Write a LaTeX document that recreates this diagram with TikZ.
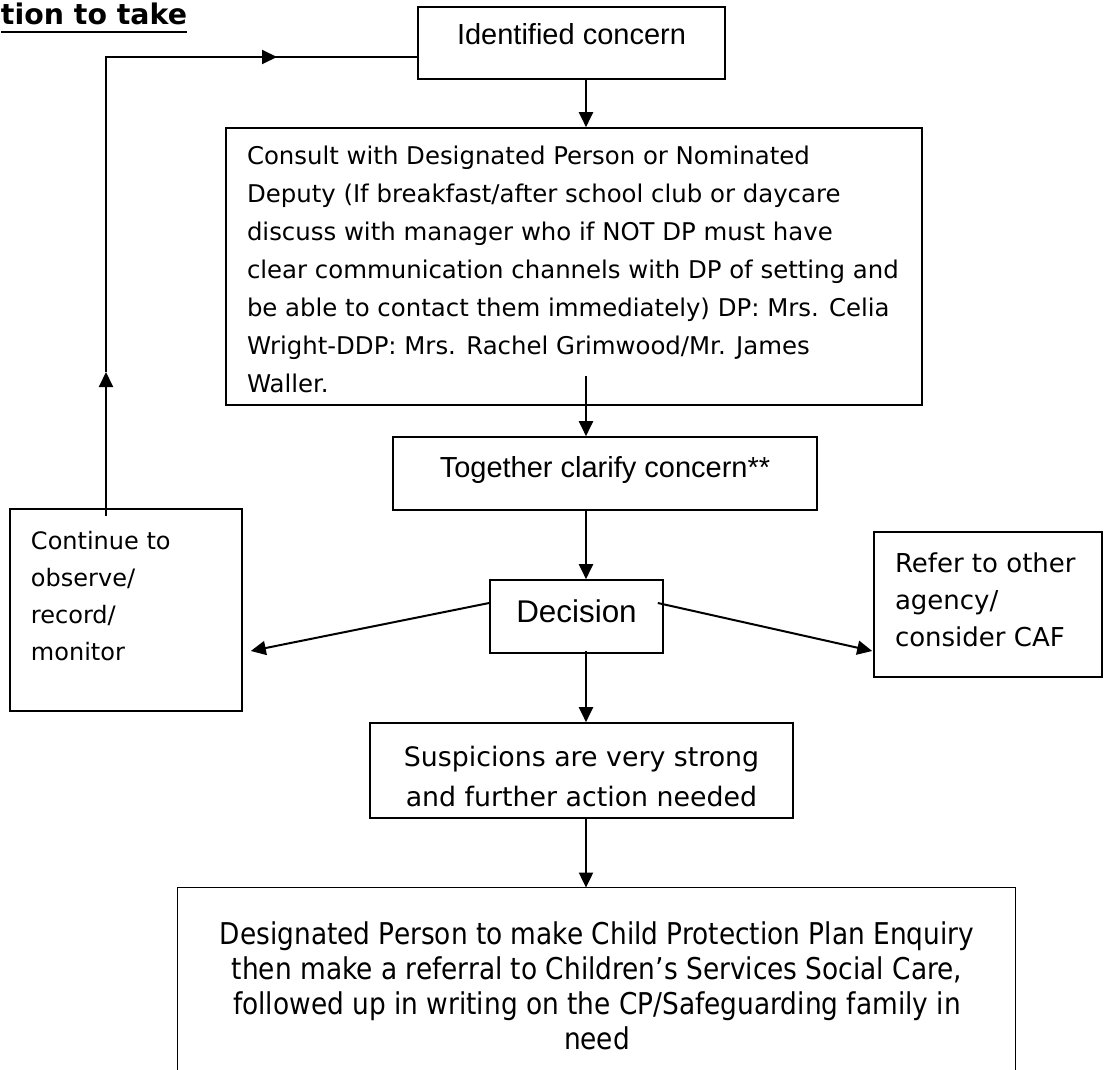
\documentclass[tikz,border=0pt]{standalone}
\usepackage{fontspec}
\setmainfont{DejaVu Sans}
\newfontfamily\arialf{Liberation Sans}
\newfontfamily\comicf{DejaVu Sans}
\newfontfamily\condf[FakeStretch=0.88]{DejaVu Sans}
\usetikzlibrary{arrows.meta,fit,calc}
\tikzset{
  boxline/.style={draw=black,line width=0.8pt},
  box/.style={boxline,inner sep=0pt,rectangle},
  conn/.style={draw=black,line width=1pt},
  arr/.style={conn,-{Triangle[length=7.5pt,width=7pt]}},
  txt/.style={inner sep=0pt,outer sep=0pt},
}
\begin{document}
\begin{tikzpicture}[x=0.5pt,y=-0.5pt]
\useasboundingbox (0,0) rectangle (1104,1070);
\fill[white] (0,0) rectangle (1104,1070);

% title
\node[txt,anchor=base west,font=\comicf\bfseries\fontsize{14.2}{17}\selectfont] (title) at (1,25) {tion to take};
\draw[line width=1.1pt] ($(title.base west)+(0,7)$) -- ($(title.base east)+(0,7)$);

% boxes
\node[box,fit={(418,7) (725,79)}] (ident) {};
\node[txt,anchor=base,font=\arialf\fontsize{14.5}{17}\selectfont] (identT) at (571.5,45) {Identified concern};

\node[box,fit={(226,128) (922,405)}] (consult) {};
\node[txt,anchor=north west,align=left,font=\comicf\fontsize{12.2}{19}\selectfont] (consultT) at (247,145.5)
 {Consult with Designated Person or Nominated\\
  Deputy (If breakfast/after school club or daycare\\
  discuss with manager who if NOT DP must have\\
  clear communication channels with DP of setting and\\
  be able to contact them immediately) DP: Mrs. Celia\\
  Wright-DDP: Mrs. Rachel Grimwood/Mr. James\\
  Waller.};

\node[box,fit={(393,437) (817,510)}] (together) {};
\node[txt,anchor=base,font=\arialf\fontsize{14.5}{17}\selectfont] (togetherT) at (605,477) {Together clarify concern**};

\node[box,fit={(490,580) (663,653)}] (decision) {};
\node[txt,anchor=base,font=\arialf\fontsize{15.7}{18}\selectfont] (decisionT) at (576.5,622) {Decision};

\node[box,fit={(10,509) (242,711)}] (cont) {};
\node[txt,anchor=north west,align=left,font=\comicf\fontsize{12}{18.5}\selectfont] (contT) at (31,531)
 {Continue to\\ observe/\\ record/\\ monitor};

\node[box,fit={(874,532) (1102,677)}] (refer) {};
\node[txt,anchor=north west,align=left,font=\comicf\fontsize{13}{18.5}\selectfont] (referT) at (895,553)
 {Refer to other\\ agency/\\ consider CAF};

\node[box,fit={(370,723) (793,818)}] (susp) {};
\node[txt,anchor=north,align=center,font=\comicf\fontsize{13.4}{20}\selectfont] (suspT) at (581.5,746.5)
 {Suspicions are very strong\\ and further action needed};

\node[inner sep=0pt,fit={(178,888) (1015,1070)}] (final) {};
\draw[boxline] (final.south west) |- (final.north east) -- (final.south east);
\node[txt,anchor=north,align=center,font=\condf\fontsize{15}{17.5}\selectfont] (finalT) at (597,922)
 {Designated Person to make Child Protection Plan Enquiry\\
  then make a referral to Children’s Services Social Care,\\
  followed up in writing on the CP/Safeguarding family in\\
  need};

% helper coordinates
\coordinate (cx) at (586,0);
\coordinate (lpc) at (106,57);
\coordinate (lpup) at (106,372);
\coordinate (lpright) at (277,57);

% connectors
\draw[arr] ($(cont.north -| lpc)+(0,8)$) -- (lpup);
\draw[conn] (lpup) -- (lpc) -- (lpright);
\draw[arr] (lpc) -- (lpright);
\draw[conn] (lpright) -- (lpc -| ident.west);

\draw[arr] (ident.south -| cx) -- (consult.north -| cx);
\draw[arr] ($(consult.south -| cx)+(0,-30)$) -- (together.north -| cx);
\draw[arr] (together.south -| cx) -- (decision.north -| cx);
\draw[arr] ($(decision.west)+(0,-13.5)$) -- ($(cont.east)+(8,41)$);
\draw[arr] ($(decision.east)+(-6,-13.5)$) -- ($(refer.west)+(-1,46.5)$);
\draw[arr] ($(decision.south -| cx)+(0,-3)$) -- (susp.north -| cx);
\draw[arr] ($(susp.south -| cx)+(0,-1)$) -- (final.north -| cx);
\end{tikzpicture}
\end{document}
